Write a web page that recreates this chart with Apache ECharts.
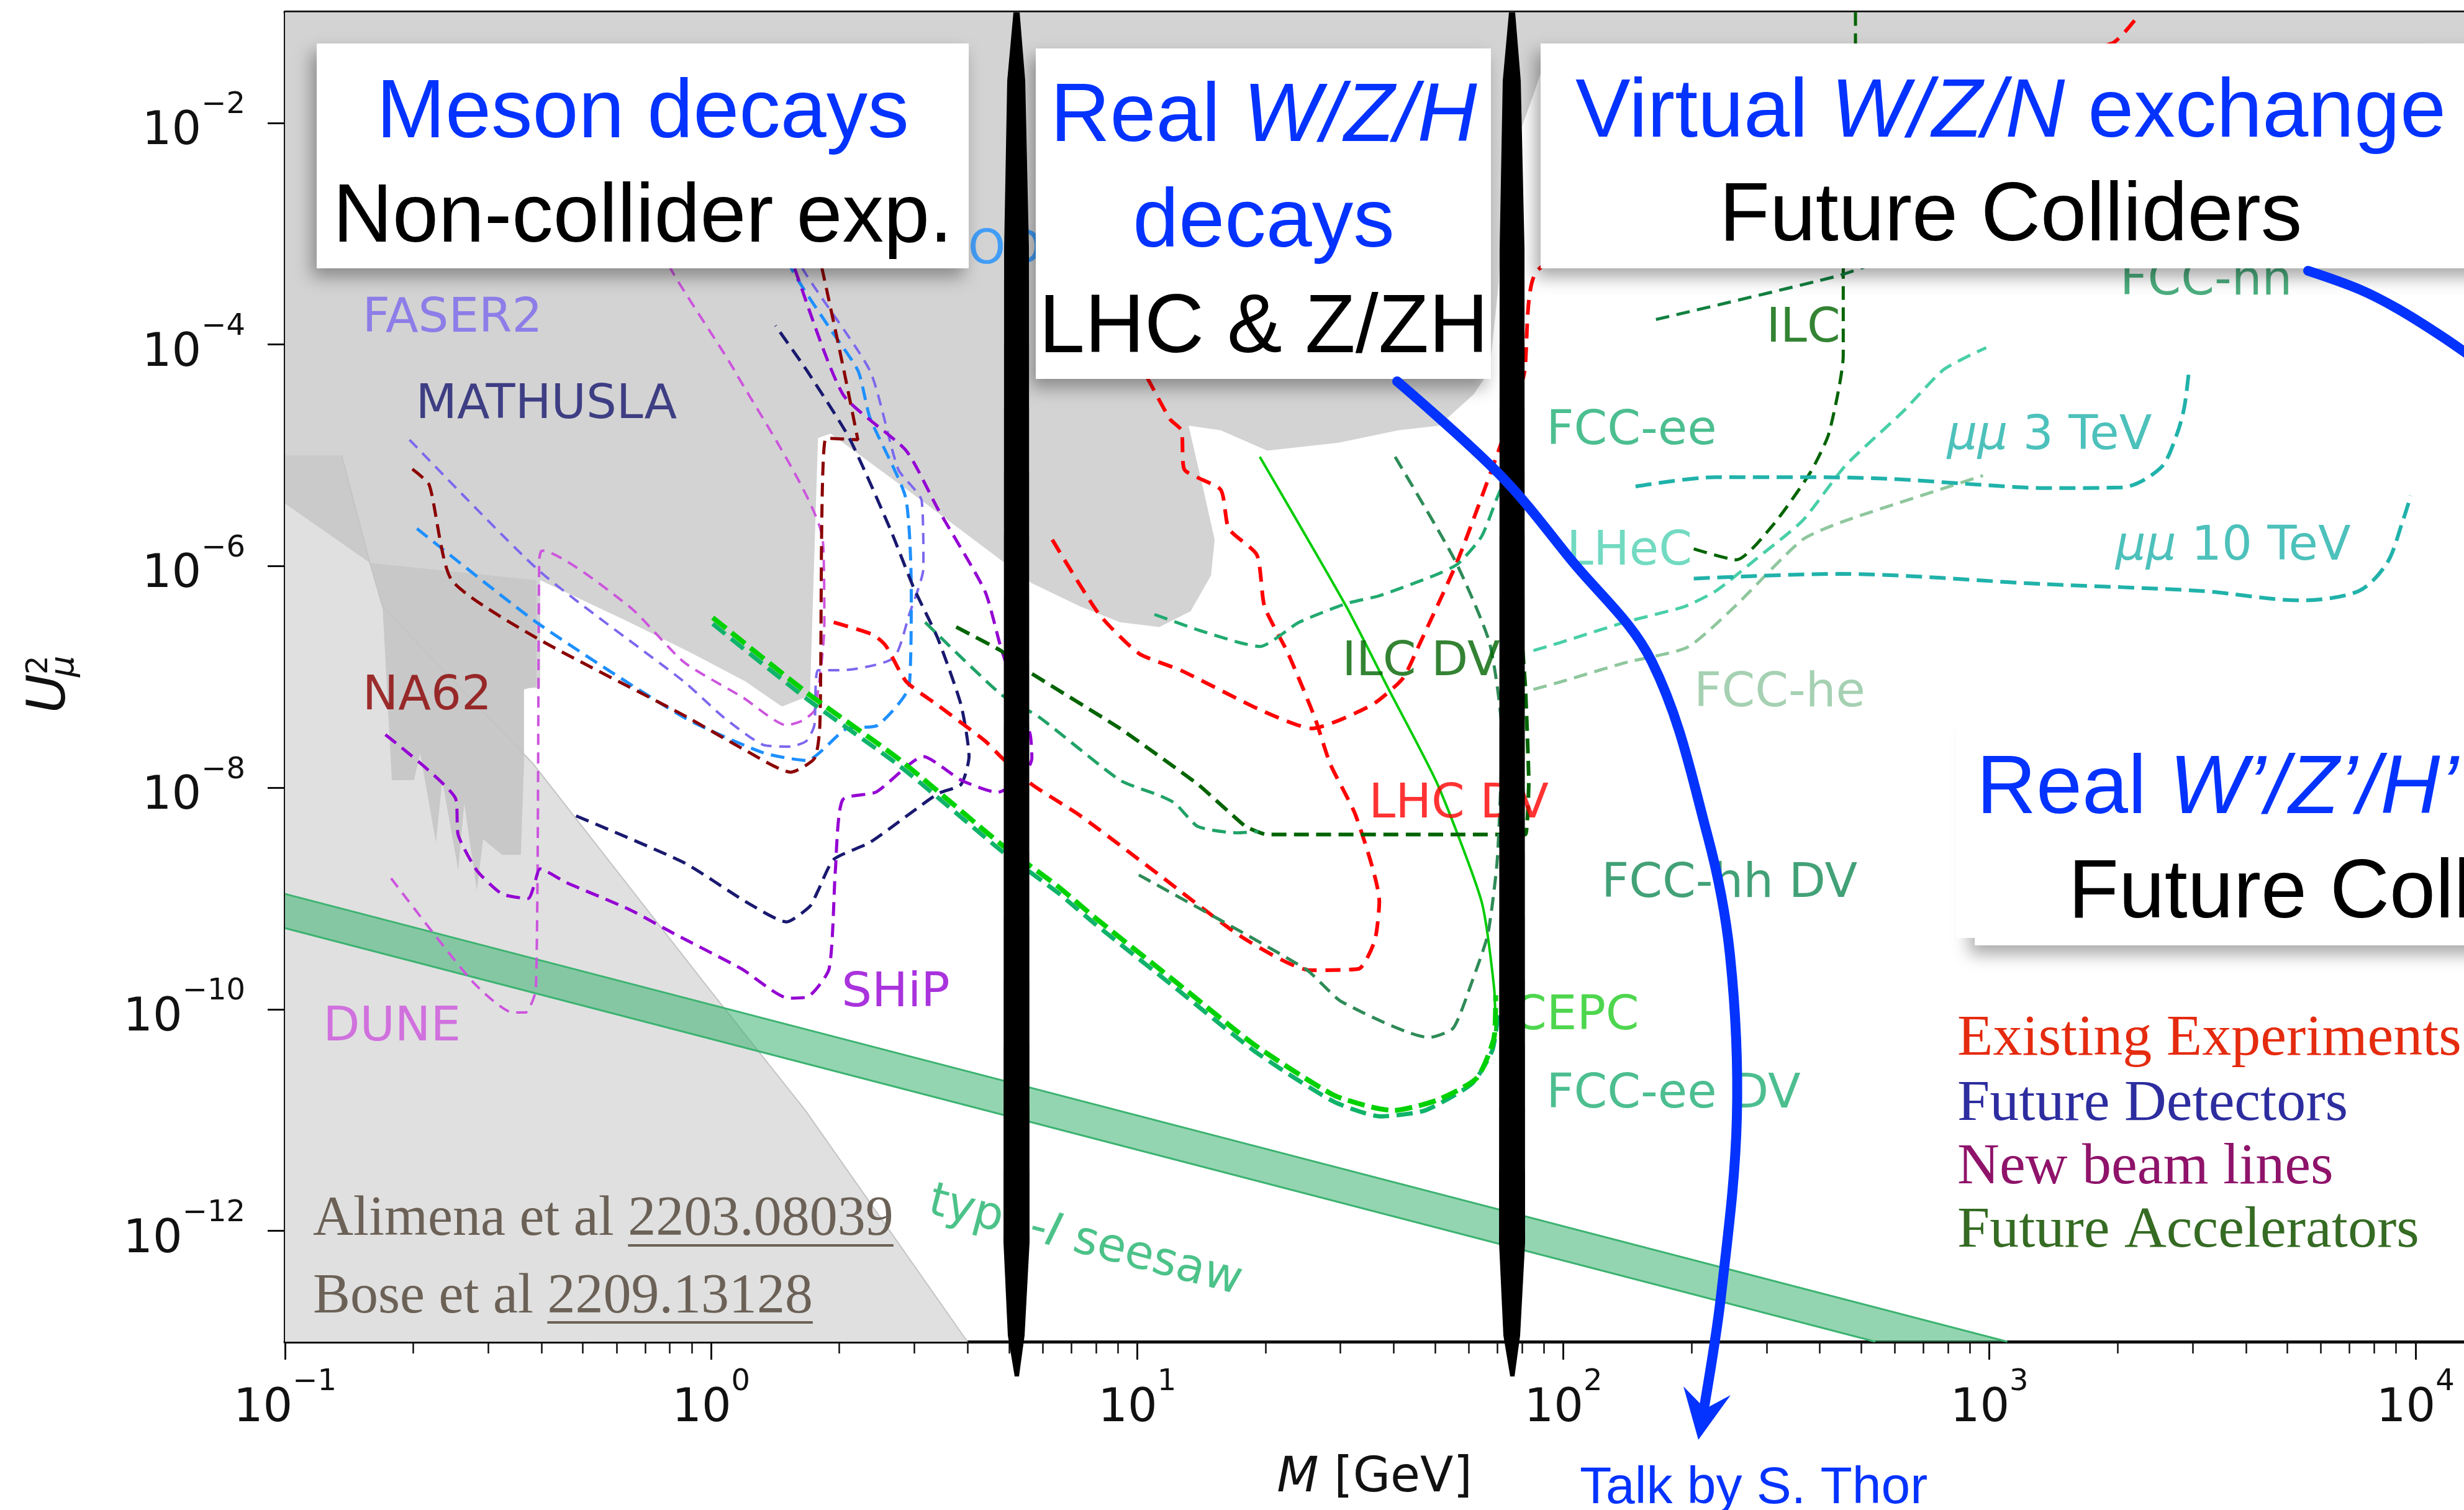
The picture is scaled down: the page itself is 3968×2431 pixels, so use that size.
<!DOCTYPE html>
<html><head><meta charset="utf-8">
<script src="https://cdn.jsdelivr.net/npm/echarts@6.0.0/dist/echarts.min.js"></script>
<style>html,body{margin:0;padding:0;background:#fff}#c{width:3968px;height:2431px}</style>
</head><body><div id="c"></div>
<script>
// ---------- axes ----------
const xMin = 0.1, xMax = 13000, yMin = 1e-13, yMax = 0.1;
const xTicks = [0.1, 1, 10, 100, 1000, 10000];
const xTickExp = ['\u22121', '0', '1', '2', '3', '4'];
const xMinorTicks = [0.2,0.3,0.4,0.5,0.6,0.7,0.8,0.9,2,3,4,5,6,7,8,9,20,30,40,50,60,70,80,90,200,300,400,500,600,700,800,900,2000,3000,4000,5000,6000,7000,8000,9000];
const yTicks = [1e-12, 1e-10, 1e-8, 1e-6, 1e-4, 1e-2];
const yTickExp = ['\u221212', '\u221210', '\u22128', '\u22126', '\u22124', '\u22122'];

// ---------- excluded regions (M [GeV], U^2) ----------
const regionMain = [[0.1,0.1],[13000,0.1],[13000,0.0522],[105.2,0.0506],[92.6,0.0474],[85.1,0.0179],[73.0,3.54e-3],[70.6,3.66e-4],[67.1,5.77e-5],[61.6,3.54e-5],[51.1,1.85e-5],[41.0,1.68e-5],[29.7,1.30e-5],[20.2,1.10e-5],[15.7,1.68e-5],[13.2,1.85e-5],[14.3,4.90e-6],[15.2,1.73e-6],[14.9,8.23e-7],[13.35,3.91e-7],[11.27,2.82e-7],[9.11,3.11e-7],[7.36,4.31e-7],[5.66,7.0e-7],[4.78,1.14e-6],[3.12,3.91e-6],[1.907,1.57e-5],[1.782,1.43e-5],[1.706,6.78e-8],[1.466,5.40e-8],[1.205,9.08e-8],[0.903,1.63e-7],[0.643,3.11e-7],[0.397,7.46e-7],[0.397,7.96e-8],[0.1,7.96e-8]];
const regionEdge = [[0.1,1e-5],[0.1358,1e-5],[0.1441,4.17e-6],[0.1582,1.07e-6],[0.1,3.66e-6]];
const regionBBN = [[0.1,3.66e-6],[0.1582,1.07e-6],[0.1694,4.31e-7],[0.383,1.63e-8],[0.983,1.57e-10],[1.665,1.22e-11],[3.996,1e-13],[0.1,1e-13]];
const regionNA62 = [[0.1582,1.07e-6],[0.1694,4.31e-7],[0.1781,1.17e-8],[0.2008,1.17e-8],[0.2076,2.04e-8],[0.226,3.21e-9],[0.2339,1.17e-8],[0.255,1.79e-9],[0.2634,7.23e-9],[0.282,1.175e-9],[0.2917,3.43e-9],[0.323,2.48e-9],[0.3577,2.48e-9],[0.3638,1.63e-8],[0.3638,7.71e-8],[0.389,8.23e-8],[0.389,7.46e-7]];
const bbnLine = [[0.1358,1e-5],[0.1441,4.17e-6],[0.1582,1.07e-6],[0.1694,4.31e-7],[0.383,1.63e-8],[0.983,1.57e-10],[1.665,1.22e-11],[3.996,1e-13]];

// ---------- type-I seesaw band ----------
const seesawBand = [[0.1,1.1e-9],[1102,1e-13],[540,1e-13],[0.1,5.4e-10]];
const seesawUpper = [[0.1,1.1e-9],[1102,1e-13]];
const seesawLower = [[0.1,5.4e-10],[540,1e-13]];

// ---------- sensitivity curves ----------
const NA62 = [[0.199,7.5e-6],[0.218,5.4e-6],[0.246,7.5e-7],[0.389,2.25e-7],[0.863,4.5e-8],[1.185,2.25e-8],[1.54,1.38e-8],[1.75,1.85e-8],[1.80,3.7e-8],[1.86,1.43e-5],[2.21,1.38e-5],[2.05,5.8e-5],[1.82,4.9e-4],[1.71,1.3e-3]];
const CODEXb = [[0.204,2.18e-6],[0.391,3.07e-7],[0.863,4.31e-8],[1.324,2.07e-8],[1.675,1.76e-8],[2.075,3.39e-8],[2.46,3.66e-8],[2.917,8.31e-8],[2.95,5.96e-7],[2.858,4.21e-6],[2.36,2.18e-5],[2.213,5.77e-5],[1.892,1.43e-4],[1.542,4.9e-4],[1.442,1.34e-3]];
const FASER2 = [[0.196,1.38e-5],[0.397,8.9e-7],[0.863,9.08e-8],[1.069,4.33e-8],[1.324,2.44e-8],[1.537,2.35e-8],[1.675,2.65e-8],[1.747,3.66e-8],[1.782,1.15e-7],[2.03,1.15e-7],[2.68,1.48e-7],[2.917,3.66e-7],[3.15,9.68e-7],[3.12,3.91e-6],[2.75,7.46e-6],[2.36,5.77e-5],[1.637,4.9e-4],[1.503,1.34e-3]];
const MATHUSLA = [[0.482,5.57e-9],[0.863,2.11e-9],[1.205,9.37e-10],[1.503,6.15e-10],[1.706,8.51e-10],[1.782,1.175e-9],[1.94,2.25e-9],[2.36,3.21e-9],[3.40,8.79e-9],[3.86,1.07e-8],[4.03,1.91e-8],[3.86,5.57e-8],[3.40,2.25e-7],[2.99,6.35e-7],[2.63,2.18e-6],[2.11,1.43e-5],[1.68,5.77e-5],[1.416,1.48e-4]];
const SHiP = [[0.172,3.01e-8],[0.251,8.09e-9],[0.255,3.73e-9],[0.282,1.79e-9],[0.323,1.10e-9],[0.372,1.0e-9],[0.384,1.30e-9],[0.397,1.85e-9],[0.456,1.40e-9],[0.643,7.96e-10],[0.818,4.82e-10],[1.178,2.32e-10],[1.52,1.26e-10],[1.69,1.30e-10],[1.892,2.32e-10],[1.957,1.79e-9],[2.035,7.76e-9],[2.44,9.14e-9],[3.15,1.91e-8],[3.86,1.17e-8],[4.70,9.08e-9],[5.38,1.22e-8],[5.66,1.85e-8],[5.61,3.01e-8],[5.29,5.77e-8],[4.78,1.88e-7],[4.39,5.96e-7],[3.40,3.32e-6],[2.87,1.10e-5],[2.04,3.54e-5],[1.569,4.9e-4],[1.442,1.34e-3]];
const DUNE = [[0.1774,1.52e-9],[0.275,1.79e-10],[0.342,9.37e-11],[0.367,9.37e-11],[0.388,1.52e-10],[0.395,1.14e-6],[0.401,1.38e-6],[0.643,4.31e-7],[0.863,1.36e-7],[1.185,6.56e-8],[1.503,3.66e-8],[1.637,4.03e-8],[1.752,5.06e-8],[1.844,2.92e-7],[1.828,1.73e-6],[1.136,5.77e-5],[0.802,4.9e-4],[0.730,1.34e-3]];
const CEPC = [[1.0085,3.43e-7],[1.694,7.0e-8],[2.77,1.79e-8],[4.78,3.11e-9],[6.49,1.30e-9],[8.02,6.56e-10],[12.27,1.79e-10],[18.9,4.74e-11],[28.9,1.68e-11],[35.8,1.30e-11],[39.96,1.22e-11],[50.7,1.52e-11],[62.7,2.40e-11],[68.8,5.57e-11],[69.4,1.34e-10]];
const FCCeeDV = [[1.0085,3.01e-7],[1.694,6.15e-8],[2.77,1.57e-8],[4.78,2.73e-9],[6.49,1.14e-9],[8.02,5.76e-10],[12.27,1.57e-10],[18.9,4.16e-11],[28.9,1.47e-11],[37.3,1.08e-11],[47.3,1.22e-11],[61.1,2.14e-11],[68.2,4.30e-11],[70.6,1.03e-10]];
const CEPCsolid = [[19.4,9.68e-6],[30.96,4.31e-7],[38.6,8.23e-8],[50.7,1.07e-8],[64.3,9.37e-10],[68.8,1.57e-10],[69.4,6.35e-11]];
const LHCDV = [[1.94,3.11e-7],[2.40,2.40e-7],[2.57,1.91e-7],[2.87,9.08e-8],[3.40,5.57e-8],[4.39,2.65e-8],[4.78,1.91e-8],[5.66,1.07e-8],[7.36,5.57e-9],[11.27,1.63e-9],[17.67,4.45e-10],[25.5,2.25e-10],[33.1,2.32e-10],[36.1,4.17e-10],[37.0,9.37e-10],[32.6,5.57e-9],[28.4,1.63e-8],[26.1,4.31e-8],[22.6,1.63e-7],[19.9,4.31e-7],[19.1,1.26e-6],[16.4,2.18e-6],[15.7,4.90e-6],[12.9,7.46e-6],[12.7,1.68e-5],[11.95,2.11e-5],[10.35,5.77e-5],[9.75,8.51e-5]];
const LHCprompt = [[6.32,1.73e-6],[8.15,3.66e-7],[10.09,1.63e-7],[12.7,1.14e-7],[19.4,5.06e-8],[25.7,3.43e-8],[35.5,5.57e-8],[42.0,9.68e-8],[45.8,1.91e-7],[56.6,1.14e-6],[71.8,1.34e-5],[80.9,5.40e-5],[87.3,4.74e-4],[376,7.97e-3],[1940,5.22e-2],[2242,9.38e-2]];
const ILC = [[485,0.1],[485,4.74e-2],[469.5,2.56e-3],[454,4.45e-4],[454,7.97e-5],[420,1.57e-5],[380,7.0e-6],[312,2.40e-6],[255,1.14e-6],[197,1.48e-6]];
const FCChh = [[165,1.68e-4],[442,4.17e-4],[575,5.95e-4]];
const ILCDV = [[3.76,2.82e-7],[4.78,1.73e-7],[5.66,1.07e-7],[9.11,3.43e-8],[13.9,1.07e-8],[17.97,4.45e-9],[20.07,3.78e-9],[70.0,3.78e-9],[81.5,3.78e-9],[83.0,1.14e-8],[81.5,7.96e-8],[79.5,2.92e-7]];
const FCCeeDV2 = [[3.18,3.11e-7],[4.78,7.0e-8],[5.90,4.31e-8],[9.11,1.17e-8],[11.27,8.51e-9],[12.27,7.23e-9],[13.9,4.45e-9],[17.22,3.91e-9],[19.23,4.03e-9]];
const FCChhDV = [[40.3,9.68e-6],[55.6,1.14e-6],[67.1,2.04e-7],[71.8,3.01e-8],[70.0,2.25e-9],[66.5,4.74e-10],[61.1,1.79e-10],[55.2,6.78e-11],[48.5,5.57e-11],[30.2,1.17e-10],[24.8,2.32e-10],[10.09,1.63e-9]];
const FCCee = [[10.98,3.66e-7],[13.9,2.65e-7],[17.38,2.04e-7],[19.4,1.88e-7],[23.99,3.11e-7],[30.96,4.59e-7],[37.0,5.40e-7],[49.8,8.23e-7],[56.6,1.05e-6],[64.3,1.85e-6],[70.0,4.17e-6],[74.9,7.46e-6]];
const LHeC = [[85.1,1.73e-7],[98.3,2.04e-7],[139.3,3.11e-7],[192.3,4.31e-7],[228,5.96e-7],[282,1.14e-6],[364,2.56e-6],[458,7.97e-6],[627,2.48e-5],[782,5.95e-5],[983,9.37e-5]];
const FCChe = [[85.1,7.71e-8],[99.2,9.08e-8],[139.3,1.34e-7],[195.6,1.85e-7],[252.5,4.31e-7],[364,1.73e-6],[458,2.56e-6],[966,6.56e-6]];
const MuMu3 = [[147.8,5.23e-6],[228,6.35e-6],[364,6.35e-6],[575,6.15e-6],[966,5.40e-6],[1346,5.06e-6],[2042,5.12e-6],[2524,7.71e-6],[2750,1.52e-5],[2868,2.73e-5],[2942,5.95e-5]];
const MuMu10 = [[202.4,7.71e-7],[442,8.51e-7],[1335,6.89e-7],[3148,5.96e-7],[5377,4.90e-7],[7362,5.96e-7],[8582,1.07e-6],[9338,2.56e-6],[9750,4.31e-6]];

// ---------- curve labels ----------
const labelNames = ['FASER2','MATHUSLA','NA62','DUNE','SHiP','CODEX-b','ILC','FCC-ee','LHeC','{m|\u03bc\u03bc} 3 TeV','{m|\u03bc\u03bc} 10 TeV','FCC-he','ILC DV','LHC DV','FCC-hh DV','CEPC','FCC-ee DV','FCC-hh'];
const labelPos = [[0.1517,1.68e-4],[0.2023,2.82e-5],[0.1517,6.56e-8],[0.1226,6.78e-11],[2.02,1.38e-10],[3.34,7.0e-4],[299,1.38e-4],[91.1,1.63e-5],[101.7,1.34e-6],[794,1.48e-5],[1973,1.48e-6],[202.4,7.0e-8],[30.2,1.34e-7],[34.9,7.0e-9],[122.7,1.34e-9],[76.2,8.51e-11],[91.1,1.68e-11],[2023,3.66e-4]];
const labelColors = ['#7b68ee','#191970','#8b0000','#cc55dd','#9400d3','#1e90ff','#006400','#1fae74','#4fd1b1','#20b2aa','#20b2aa','#8fc59f','#006400','#ff0000','#138a55','#22cc22','#1fae74','#1f9a5e'];
const seesawLabel = 'type-{i|I} seesaw';
const seesawLabelPos = [7.55, 7.96e-13];

// ---------- helpers ----------
function regionSeries(pts, fill, z) {
  return {type:'custom', coordinateSystem:'cartesian2d', silent:true, z:z, clip:true,
    data: pts, encode:{x:0, y:1},
    renderItem: function (params, api) {
      if (params.dataIndex !== 0) return null;
      return {type:'polygon', shape:{points: pts.map(function (p) { return api.coord(p); })}, style:{fill: fill}};
    }};
}
function curve(data, color, width, dash, smooth, z) {
  return {type:'line', data: data, symbol:'none', showSymbol:false, silent:true, z: z || 3,
    smooth: smooth == null ? 0.2 : smooth, emphasis:{disabled:true},
    lineStyle:{color: color, width: width, type: dash || 'solid', cap:'butt'}};
}
const D1 = [22, 12], D2 = [18, 12], DT = [28, 11];

const series = [
  regionSeries(regionMain, '#d3d3d3', 1),
  regionSeries(regionEdge, '#cacaca', 1),
  regionSeries(regionBBN, '#e0e0e0', 1),
  regionSeries(regionNA62, '#c8c8c8', 1),
  curve(bbnLine, '#c4c4c4', 2, 'solid', 0, 1),
  regionSeries(seesawBand, 'rgba(60,179,113,0.55)', 2),
  curve(seesawUpper, '#3cb371', 3, 'solid', 0, 2),
  curve(seesawLower, '#3cb371', 3, 'solid', 0, 2),
  curve(DUNE, '#cc55dd', 4, D2),
  curve(FASER2, '#7b68ee', 4, D2),
  curve(CODEXb, '#1e90ff', 5, D1),
  curve(NA62, '#8b0000', 5, D1),
  curve(MATHUSLA, '#191970', 5, D1),
  curve(SHiP, '#9400d3', 5, D1),
  curve(FCCeeDV, '#0fb36a', 7, [26, 12]),
  curve(CEPC, '#00d100', 8, DT),
  curve(CEPCsolid, '#00cc00', 4, 'solid', 0.2),
  curve(LHCprompt, '#ff0000', 6, [24, 14]),
  curve(LHCDV, '#ff0000', 6, [24, 14]),
  curve(ILCDV, '#006400', 6, [24, 12], 0.1),
  curve(FCCeeDV2, '#1fa266', 5, D1),
  curve(FCChhDV, '#2e8b57', 5, D1),
  curve(FCCee, '#22aa70', 5, D1),
  curve(ILC, '#006400', 5, D1),
  curve(FCChh, '#128040', 5, D1),
  curve(LHeC, '#48cfa8', 5, D1),
  curve(FCChe, '#8fc79d', 5, D1),
  curve(MuMu3, '#20b2aa', 6, [26, 12], 0.3),
  curve(MuMu10, '#20b2aa', 6, [26, 12], 0.3),
  {type:'scatter', silent:true, z:5, symbolSize:1, itemStyle:{color:'rgba(0,0,0,0)'},
   label:{show:true, position:'right', distance:0, fontSize:77, fontFamily:'DejaVu Sans',
     rich:{m:{fontStyle:'italic', fontSize:77, fontFamily:'DejaVu Sans'}, i:{fontStyle:'italic', fontSize:75, fontFamily:'DejaVu Sans'}}},
   data: labelNames.map(function (n, k) {
     return {value: labelPos[k], label:{formatter: n, color: labelColors[k]}};
   }).concat([{value: seesawLabelPos, label:{formatter: seesawLabel, color:'#1fb36c', position:'inside', rotate:-14.7, fontSize:75}}])
  }
];

function expLabel(ticks, exps) {
  return function (v) {
    const i = ticks.findIndex(function (t) { return Math.abs(t - v) <= t * 1e-6; });
    return i < 0 ? '' : '{b|10}{s|' + exps[i] + '}';
  };
}
const tickRich = {
  b:{fontSize:75, lineHeight:104, fontFamily:'DejaVu Sans', color:'#111', verticalAlign:'bottom'},
  s:{fontSize:48, lineHeight:74, fontFamily:'DejaVu Sans', color:'#111', verticalAlign:'top'}
};

// ---------- overlay (slide annotations) ----------
const BLUE = '#0433ff';
const ctx = document.createElement('canvas').getContext('2d');
ctx.font = '90px "Liberation Serif"';
const c1a = ctx.measureText('Alimena et al ').width, c1b = ctx.measureText('2203.08039').width;
const c2a = ctx.measureText('Bose et al ').width, c2b = ctx.measureText('2209.13128').width;

function box(x, y, w, h) {
  return {type:'rect', z:50, silent:true, shape:{x:x, y:y, width:w, height:h},
    style:{fill:'#ffffff', shadowBlur:26, shadowColor:'rgba(0,0,0,0.35)', shadowOffsetX:-8, shadowOffsetY:14}};
}
function plainRect(x, y, w, h) {
  return {type:'rect', z:51, silent:true, shape:{x:x, y:y, width:w, height:h}, style:{fill:'#ffffff'}};
}
const BF = 133;
const sansRich = {
  n:{fontSize:BF, fontFamily:'Liberation Sans'},
  i:{fontSize:BF, fontFamily:'Liberation Sans', fontStyle:'italic'}
};
function txt(x, y, text, color, size, family, align) {
  const st = {text:text, fill:color, fontSize:size, fontFamily:family, align:align || 'center', verticalAlign:'middle',
    textAlign: align || 'center', textVerticalAlign:'middle', rich: sansRich};
  return {type:'text', z:60, silent:true, x:x, y:y, style:st};
}
function bar(cx) {
  return {type:'polygon', z:70, silent:true, shape:{points:[[cx-5,20],[cx+5,20],[cx+14,130],[cx+20,400],[cx+21,2000],[cx+13,2150],[cx+4,2216],[cx-3,2216],[cx-14,2150],[cx-21,2000],[cx-20,400],[cx-15,130]]}, style:{fill:'#000'}};
}

const graphics = [
  box(510, 70, 1050, 362),
  box(1668, 78, 733, 532),
  box(2481, 70, 1600, 362),
  box(3180, 1160, 1300, 362),
  plainRect(3150, 1110, 1300, 400),
  txt(1035, 184, 'Meson decays', BLUE, BF, 'Liberation Sans'),
  txt(1035, 352, 'Non-collider exp.', '#000', BF, 'Liberation Sans'),
  txt(2035, 190, '{n|Real }{i|W/Z/H}', BLUE, BF, 'Liberation Sans'),
  txt(2035, 360, 'decays', BLUE, BF, 'Liberation Sans'),
  txt(2035, 530, 'LHC & Z/ZH', '#000', BF, 'Liberation Sans'),
  txt(3238, 183, '{n|Virtual }{i|W/Z/N}{n| exchange}', BLUE, BF, 'Liberation Sans'),
  txt(3238, 350, 'Future Colliders', '#000', BF, 'Liberation Sans'),
  txt(3800, 1272, '{n|Real }{i|W\u2019/Z\u2019/H\u2019}{n| decays}', BLUE, BF, 'Liberation Sans'),
  txt(3800, 1440, 'Future Colliders', '#000', BF, 'Liberation Sans'),
  txt(3152, 1673, 'Existing Experiments', '#e52b0f', 94, 'Liberation Serif', 'left'),
  txt(3152, 1778, 'Future Detectors', '#2d2da0', 94, 'Liberation Serif', 'left'),
  txt(3152, 1880, 'New beam lines', '#8f136a', 94, 'Liberation Serif', 'left'),
  txt(3152, 1982, 'Future Accelerators', '#356b23', 94, 'Liberation Serif', 'left'),
  txt(504, 1964, 'Alimena et al 2203.08039', '#6b6156', 90, 'Liberation Serif', 'left'),
  txt(504, 2089, 'Bose et al 2209.13128', '#6b6156', 90, 'Liberation Serif', 'left'),
  {type:'line', z:60, silent:true, shape:{x1:504 + c1a, y1:2005, x2:504 + c1a + c1b, y2:2005}, style:{stroke:'#6b6156', lineWidth:4}},
  {type:'line', z:60, silent:true, shape:{x1:504 + c2a, y1:2129, x2:504 + c2a + c2b, y2:2129}, style:{stroke:'#6b6156', lineWidth:4}},
  bar(1637),
  bar(2435),
  {type:'polyline', z:80, silent:true, shape:{smooth:0.35, points:[[2250,614],[2416,765],[2529,900],[2660,1065],[2750,1346],[2786,1538],[2797,1800],[2772,2082],[2745,2262]]},
   style:{stroke:BLUE, lineWidth:16, fill:null, lineCap:'round'}},
  {type:'polygon', z:80, silent:true, shape:{points:[[2735,2318],[2787,2246],[2746,2268],[2711,2232]]}, style:{fill:BLUE}},
  {type:'polyline', z:80, silent:true, shape:{smooth:0.35, points:[[3717,436],[3800,466],[3861,497],[3930,540],[3995,585]]},
   style:{stroke:BLUE, lineWidth:16, fill:null, lineCap:'round'}},
  txt(2544, 2397, 'Talk by S. Thor', BLUE, 84, 'Liberation Sans', 'left'),
  {type:'group', z:60, x:108, y:1148, rotation:Math.PI / 2, silent:true, children:[
    {type:'text', z:60, x:0, y:-26, style:{text:'U', fill:'#111', fontSize:86, fontStyle:'italic', fontFamily:'DejaVu Sans', align:'left', verticalAlign:'middle'}},
    {type:'text', z:60, x:62, y:-44, style:{text:'2', fill:'#111', fontSize:48, fontFamily:'DejaVu Sans', align:'left', verticalAlign:'middle'}},
    {type:'text', z:60, x:58, y:-4, style:{text:'\u03bc', fill:'#111', fontSize:54, fontStyle:'italic', fontFamily:'DejaVu Sans', align:'left', verticalAlign:'middle'}}
  ]}
];

const chart = echarts.init(document.getElementById('c'), null, {renderer:'canvas'});
chart.setOption({
  animation:false,
  backgroundColor:'#ffffff',
  grid:{left:459, top:19.5, width:3509, height:2157},
  xAxis:[
    {type:'log', logBase:10, min:xMin, max:xMax, position:'bottom',
     name:'{i|M} [GeV]', nameLocation:'middle', nameGap:176,
     nameTextStyle:{fontSize:78, fontFamily:'DejaVu Sans', color:'#111', lineHeight:90,
       rich:{i:{fontStyle:'italic', fontSize:78, fontFamily:'DejaVu Sans', color:'#111', lineHeight:90}}},
     axisLine:{show:true, onZero:false, lineStyle:{color:'#111', width:5}},
     axisTick:{show:true, length:29, lineStyle:{color:'#111', width:3}, customValues:xTicks},
     axisLabel:{show:true, margin:42, customValues:xTicks, formatter:expLabel(xTicks, xTickExp), rich:tickRich},
     splitLine:{show:false}, minorTick:{show:false}},
    {type:'log', logBase:10, min:xMin, max:xMax, position:'bottom',
     axisLine:{show:false, onZero:false},
     axisTick:{show:true, length:19, lineStyle:{color:'#111', width:2.5}, customValues:xMinorTicks},
     axisLabel:{show:false}, splitLine:{show:false}},
    {type:'log', logBase:10, min:xMin, max:xMax, position:'top',
     axisLine:{show:true, onZero:false, lineStyle:{color:'#111', width:5}},
     axisTick:{show:false}, axisLabel:{show:false}, splitLine:{show:false}}
  ],
  yAxis:[
    {type:'log', logBase:10, min:yMin, max:yMax, position:'left',
     axisLine:{show:true, onZero:false, lineStyle:{color:'#111', width:5}},
     axisTick:{show:true, length:28, lineStyle:{color:'#111', width:3}, customValues:yTicks},
     axisLabel:{show:true, margin:64, customValues:yTicks, formatter:expLabel(yTicks, yTickExp), rich:tickRich},
     splitLine:{show:false}}
  ],
  series: series,
  graphic:{elements: graphics}
});
</script></body></html>
